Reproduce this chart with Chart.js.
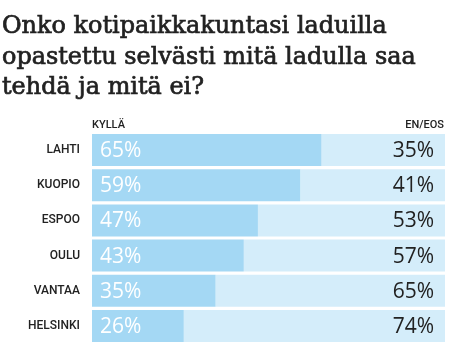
<!DOCTYPE html>
<html><head><meta charset="utf-8">
<script src="https://cdn.jsdelivr.net/npm/chart.js@4"></script>
<style>html,body{margin:0;padding:0;background:#fff}canvas{display:block}</style>
</head><body>
<canvas id="c" width="449" height="363"></canvas>
<script>
const titleLines = ["Onko kotipaikkakuntasi laduilla", "opastettu selvästi mitä ladulla saa", "tehdä ja mitä ei?"];
const categories = ["LAHTI", "KUOPIO", "ESPOO", "OULU", "VANTAA", "HELSINKI"];
const yesValues = [65, 59, 47, 43, 35, 26];
const noValues = [35, 41, 53, 57, 65, 74];
const yesLabel = "KYLLÄ";
const noLabel = "EN/EOS";

const overlay = {
  id: 'overlay',
  afterDraw(chart) {
    const ctx = chart.ctx;
    const area = chart.chartArea;
    ctx.save();
    // title
    ctx.fillStyle = '#222';
    ctx.strokeStyle = '#222';
    ctx.lineWidth = 0.7;
    ctx.textBaseline = 'alphabetic';
    ctx.textAlign = 'left';
    let size = 26;
    ctx.font = `${size}px "DejaVu Serif"`;
    const w = ctx.measureText(titleLines[0]).width;
    size = size * 385 / w;
    ctx.font = `${size}px "DejaVu Serif"`;
    titleLines.forEach((t, i) => { ctx.fillText(t, 2, 33 + i * 30.5); ctx.strokeText(t, 2, 33 + i * 30.5); });
    // headers
    ctx.font = '500 11px Roboto';
    ctx.fillStyle = '#222';
    ctx.textBaseline = 'middle';
    ctx.fillText(yesLabel, area.left, 125);
    ctx.textAlign = 'right';
    ctx.fillText(noLabel, area.right - 1, 125);
    // value labels
    const m0 = chart.getDatasetMeta(0), m1 = chart.getDatasetMeta(1);
    ctx.font = '400 21px "Open Sans"';
    m0.data.forEach((bar, i) => {
      ctx.textAlign = 'left';
      ctx.fillStyle = '#ffffff';
      ctx.fillText(yesValues[i] + '%', area.left + 8, bar.y + 1);
    });
    ctx.font = '500 21px "Open Sans"';
    m1.data.forEach((bar, i) => {
      ctx.textAlign = 'right';
      ctx.fillStyle = '#222';
      ctx.fillText(noValues[i] + '%', area.right - 11, bar.y + 1);
    });
    ctx.restore();
  }
};

new Chart(document.getElementById('c'), {
  type: 'bar',
  data: {
    labels: categories,
    datasets: [
      { label: yesLabel, data: yesValues, backgroundColor: '#a4d8f4', borderWidth: 0, categoryPercentage: 1, barPercentage: 0.91 },
      { label: noLabel, data: noValues, backgroundColor: '#d4edfa', borderWidth: 0, categoryPercentage: 1, barPercentage: 0.91 }
    ]
  },
  options: {
    indexAxis: 'y',
    responsive: false,
    animation: false,
    layout: { padding: { left: 0, right: 4, top: 132.4, bottom: 19.4 } },
    plugins: { legend: { display: false }, title: { display: false }, tooltip: { enabled: false } },
    scales: {
      x: { stacked: true, min: 0, max: 100, display: false },
      y: {
        stacked: true,
        grid: { display: false, drawTicks: false },
        border: { display: false },
        ticks: { color: '#222', font: { family: 'Roboto', weight: '500', size: 12 }, padding: 12 },
        afterFit(scale) { scale.width = 92; }
      }
    }
  },
  plugins: [overlay]
});
</script>
</body></html>
